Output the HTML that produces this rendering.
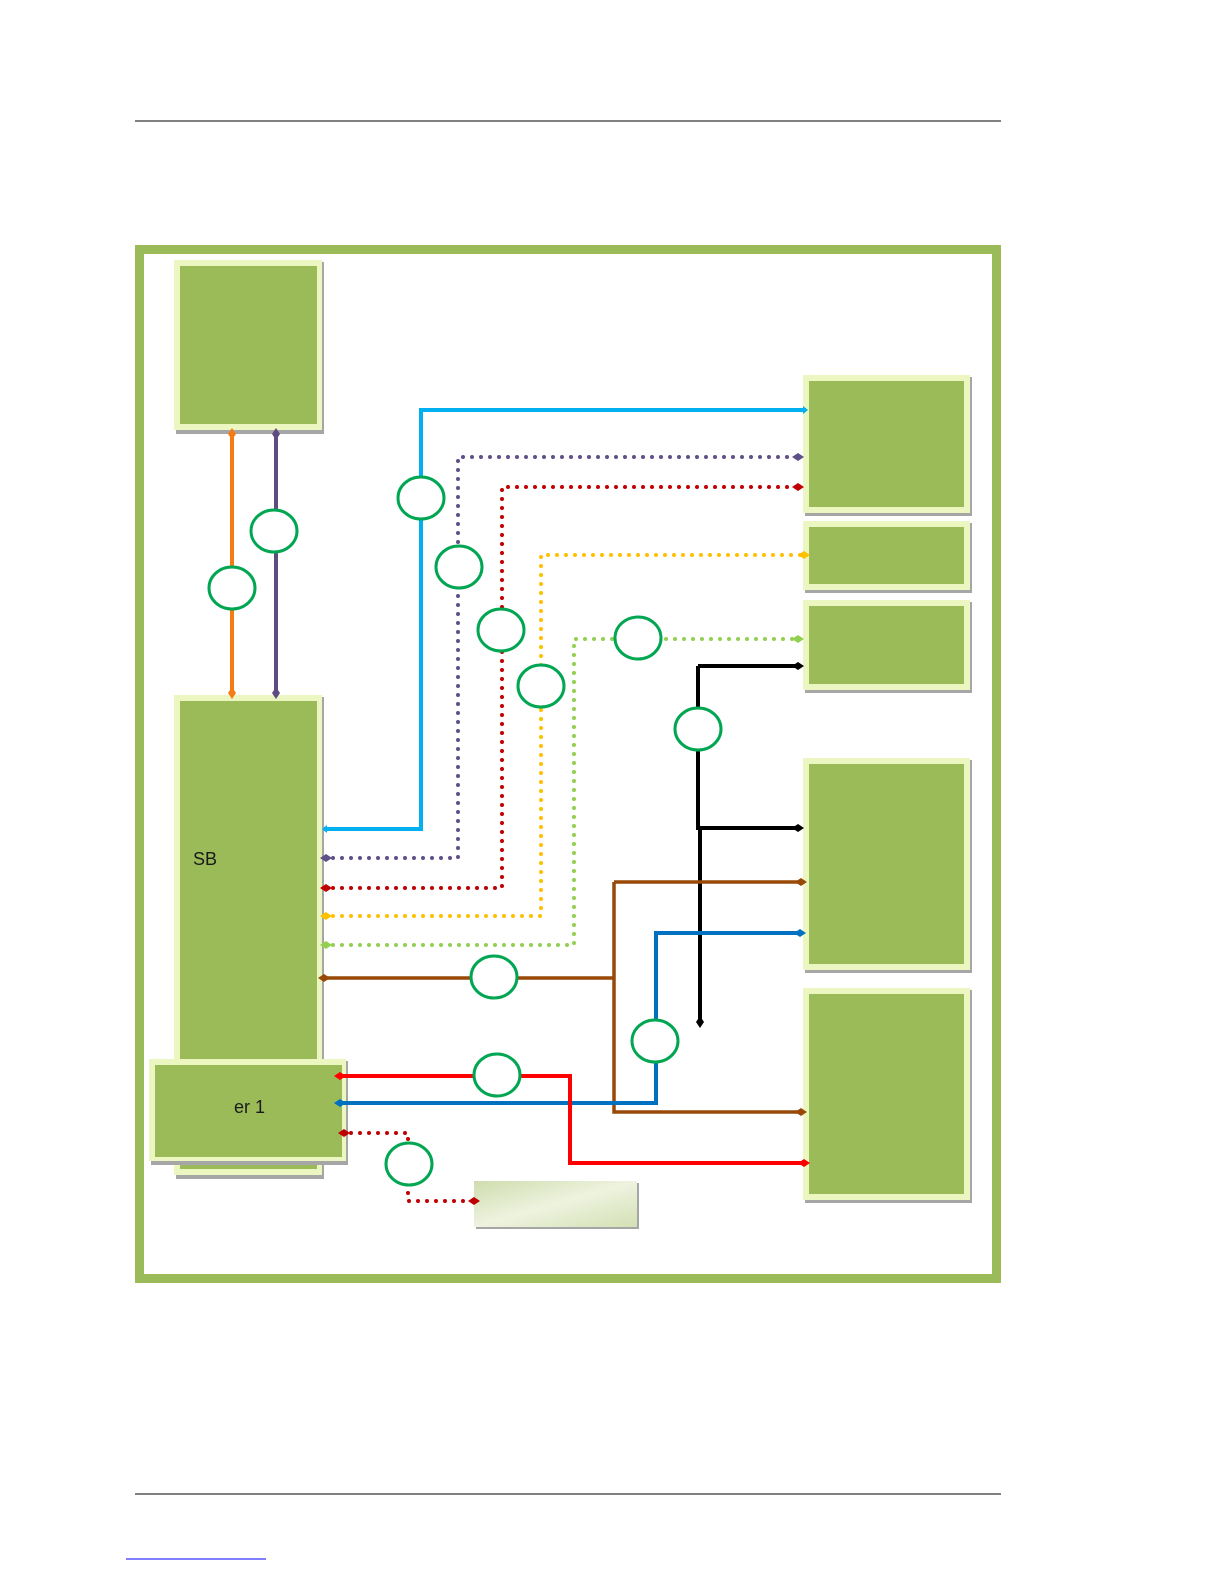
<!DOCTYPE html>
<html><head><style>body{margin:0;background:#fff}svg{display:block}</style></head><body>
<svg width="1224" height="1584" xmlns="http://www.w3.org/2000/svg" font-family="Liberation Sans, sans-serif">
<line x1="135" y1="121" x2="1001" y2="121" stroke="#000" stroke-width="1"/>
<line x1="135" y1="1494" x2="1001" y2="1494" stroke="#000" stroke-width="1"/>
<line x1="126" y1="1559" x2="266" y2="1559" stroke="#00f" stroke-width="1"/>
<rect x="139.5" y="249.5" width="857" height="1029" fill="#fff" stroke="#9bbb59" stroke-width="9"/>
<defs>
<linearGradient id="g" x1="0" y1="0" x2="1" y2="1"><stop offset="0" stop-color="#cfdcae"/><stop offset="0.5" stop-color="#eef3df"/><stop offset="1" stop-color="#d3e0b4"/></linearGradient>
</defs>
<g>
<rect x="176" y="262" width="148" height="172" fill="#a6a6a6"/>
<rect x="174" y="260" width="148" height="170" fill="#ebf6c0"/><rect x="180" y="266" width="137" height="158" fill="#9bbb59"/>
<rect x="176" y="697" width="148" height="482" fill="#a6a6a6"/>
<rect x="174" y="695" width="148" height="480" fill="#ebf6c0"/><rect x="180" y="701" width="137" height="468" fill="#9bbb59"/>
<rect x="151" y="1061" width="197" height="104" fill="#a6a6a6"/>
<rect x="149" y="1059" width="197" height="102" fill="#ebf6c0"/><rect x="155" y="1065" width="187" height="92" fill="#9bbb59"/>
<rect x="805" y="377" width="167" height="139" fill="#a6a6a6"/>
<rect x="803" y="375" width="167" height="138" fill="#ebf6c0"/><rect x="809" y="381" width="155" height="126" fill="#9bbb59"/>
<rect x="805" y="523" width="167" height="70" fill="#a6a6a6"/>
<rect x="803" y="521" width="167" height="69" fill="#ebf6c0"/><rect x="809" y="527" width="155" height="57" fill="#9bbb59"/>
<rect x="805" y="602" width="167" height="91" fill="#a6a6a6"/>
<rect x="803" y="600" width="167" height="90" fill="#ebf6c0"/><rect x="809" y="606" width="155" height="78" fill="#9bbb59"/>
<rect x="805" y="760" width="167" height="213" fill="#a6a6a6"/>
<rect x="803" y="758" width="167" height="212" fill="#ebf6c0"/><rect x="809" y="764" width="155" height="200" fill="#9bbb59"/>
<rect x="805" y="990" width="167" height="213" fill="#a6a6a6"/>
<rect x="803" y="988" width="167" height="212" fill="#ebf6c0"/><rect x="809" y="994" width="155" height="200" fill="#9bbb59"/>
<rect x="476" y="1183" width="163" height="46" fill="#a6a6a6"/>
<rect x="474" y="1181" width="163" height="46" fill="url(#g)"/>
</g>
<text x="193" y="865" font-size="18" fill="#1a1a1a">SB</text>
<text x="234" y="1113" font-size="18" fill="#1a1a1a">er 1</text>
<g fill="none" stroke-width="4">
<path d="M232 434V693" stroke="#f57c14"/>
<path d="M276 434V693" stroke="#5f4b80"/>
<path d="M324 829H421V410H806" stroke="#00b0f0"/>
<path d="M698 666H800M698 666V828H800M700 828V1022" stroke="#000"/>
<path d="M322 978H614M614 882H803M614 882V1112H803" stroke="#984807" stroke-width="3.5"/>
<path d="M338 1103H656V933H803" stroke="#0070c0"/>
<path d="M338 1076H570V1163H806" stroke="#ff0000"/>
</g>
<g fill="none" stroke-width="4" stroke-linecap="round" stroke-dasharray="0 9">
<path d="M324 858H458V457H800" stroke="#5f5088"/>
<path d="M324 888H502V487H800" stroke="#c00000"/>
<path d="M324 916H541V555H806" stroke="#ffc000"/>
<path d="M324 945H574V639H800" stroke="#92d050"/>
<path d="M342 1133H408V1201H476" stroke="#c00000"/>
</g>
<g>
<path d="M232 428l4 6-4 6-4-6z M232 687l4 6-4 6-4-6z" fill="#f57c14"/>
<path d="M276 428l4 6-4 6-4-6z M276 687l4 6-4 6-4-6z" fill="#5f4b80"/>
<path d="M322 829l5-4v8z M808 410l-5-4v8z" fill="#00b0f0"/>
<path d="M320 858l6-4 6 4-6 4z M804 457l-6-4-6 4 6 4z" fill="#5f5088"/>
<path d="M320 888l6-4 6 4-6 4z M804 487l-6-4-6 4 6 4z M338 1133l6-4 6 4-6 4z M480 1201l-6-4-6 4 6 4z" fill="#c00000"/>
<path d="M320 916l6-4 6 4-6 4z M810 555l-6-4-6 4 6 4z" fill="#ffc000"/>
<path d="M320 945l6-4 6 4-6 4z M804 639l-6-4-6 4 6 4z" fill="#92d050"/>
<path d="M318 978l6-4 6 4-6 4z M807 882l-6-4-6 4 6 4z M807 1112l-6-4-6 4 6 4z" fill="#984807"/>
<path d="M804 666l-6-4-6 4 6 4z M804 828l-6-4-6 4 6 4z M700 1016l4 6-4 6-4-6z" fill="#000"/>
<path d="M334 1103l6-4 6 4-6 4z M806 933l-6-4-6 4 6 4z" fill="#0070c0"/>
<path d="M334 1076l6-4 6 4-6 4z M810 1163l-6-4-6 4 6 4z" fill="#ff0000"/>
</g>
<g fill="#fff" stroke="#00a651" stroke-width="3">
<ellipse cx="232" cy="588" rx="23" ry="21"/>
<ellipse cx="274" cy="531" rx="23" ry="21"/>
<ellipse cx="421" cy="498" rx="23" ry="21"/>
<ellipse cx="459" cy="567" rx="23" ry="21"/>
<ellipse cx="501" cy="630" rx="23" ry="21"/>
<ellipse cx="541" cy="686" rx="23" ry="21"/>
<ellipse cx="638" cy="638" rx="23" ry="21"/>
<ellipse cx="698" cy="729" rx="23" ry="21"/>
<ellipse cx="494" cy="977" rx="23" ry="21"/>
<ellipse cx="655" cy="1041" rx="23" ry="21"/>
<ellipse cx="497" cy="1075" rx="23" ry="21"/>
<ellipse cx="409" cy="1164" rx="23" ry="21"/>
</g>
</svg>
</body></html>
